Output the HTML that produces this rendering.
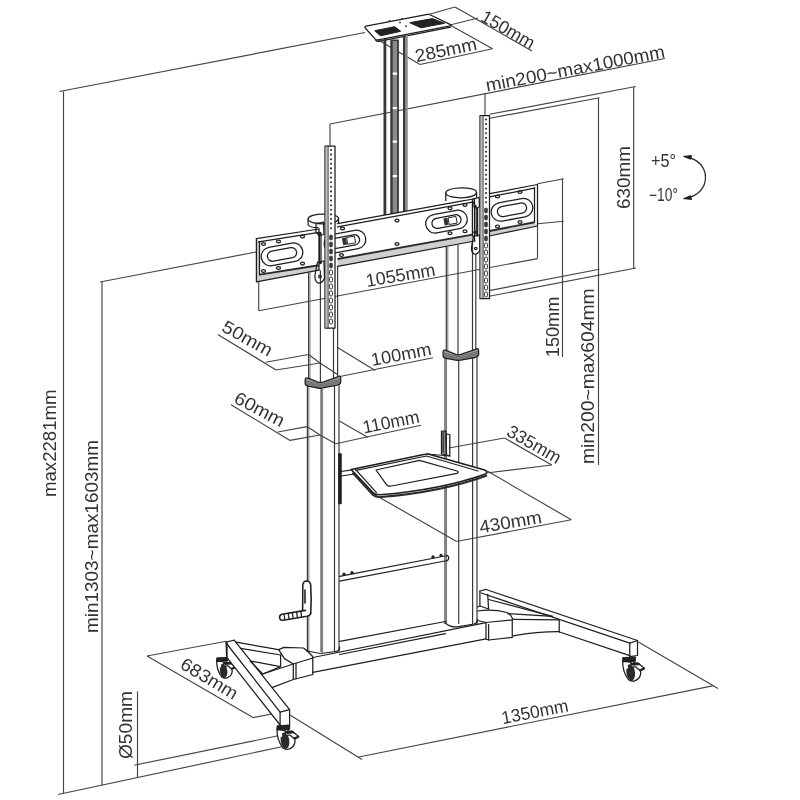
<!DOCTYPE html>
<html><head><meta charset="utf-8"><title>TV cart dimensions</title>
<style>
html,body{margin:0;padding:0;background:#fff;}
body{width:800px;height:800px;overflow:hidden;}
svg{display:block;filter:grayscale(1);}
text{font-family:"Liberation Sans",sans-serif;fill:#333;}
.d{stroke:#444;stroke-width:1.15;fill:none;}
.o{stroke:#1e1e1e;stroke-width:1.25;fill:none;stroke-linejoin:round;stroke-linecap:round;}
.oc{stroke:#1e1e1e;stroke-width:1.25;fill:#fff;stroke-linejoin:round;}
.o2{stroke:#1e1e1e;stroke-width:0.9;fill:none;}
.f{stroke:#1e1e1e;stroke-width:1;fill:#222;stroke-linejoin:round;}
.h{fill:#333;stroke:none;}
.c{stroke:#3a3a3a;stroke-width:1.2;fill:none;}
.a{stroke:#333;stroke-width:1.3;fill:none;}
.ck{stroke:#222;stroke-width:1.6;fill:#fff;stroke-linejoin:round;stroke-linecap:round;}
.ot{stroke:#2a2a2a;stroke-width:1.9;fill:none;}
.sd{fill:#3a3a3a;stroke:#3a3a3a;stroke-width:0.6;}
.sh{stroke:#1e1e1e;stroke-width:1.6;fill:#fff;stroke-linejoin:round;}
.c2{stroke:#555;stroke-width:0.8;fill:none;}
.bd{fill:#383838;stroke:none;}
.bg{fill:#8a8a8a;stroke:none;}
.col{fill:#9a9a9a;stroke:#222;stroke-width:1.3;stroke-linejoin:round;}
.cl{fill:none;stroke:#444;stroke-width:0.6;}
</style></head><body>
<svg width="800" height="800" viewBox="0 0 800 800">
<rect x="0" y="0" width="800" height="800" fill="#fff"/>
<line class="d" x1="59.5" y1="91.5" x2="365" y2="32.5"/>
<line class="d" x1="63.5" y1="91.5" x2="63.5" y2="793.3"/>
<line class="d" x1="58" y1="794.5" x2="283" y2="746.5"/>
<line class="d" x1="100" y1="282" x2="256" y2="252"/>
<line class="d" x1="102" y1="282" x2="102" y2="785"/>
<line class="d" x1="137.5" y1="691.4" x2="137.5" y2="777.5"/>
<line class="d" x1="134.2" y1="765.2" x2="280.5" y2="735.3"/>
<line class="d" x1="147" y1="656" x2="253" y2="717.6"/>
<line class="d" x1="147" y1="656" x2="226.25" y2="641.25"/>
<line class="d" x1="253" y1="717.6" x2="280" y2="712.5"/>
<line class="d" x1="358.75" y1="757" x2="712.6" y2="685.9"/>
<line class="d" x1="290" y1="715" x2="362" y2="759.5"/>
<line class="d" x1="638.4" y1="641.9" x2="718" y2="688.6"/>
<line class="d" x1="370" y1="492" x2="456.25" y2="541.25"/>
<line class="d" x1="456.25" y1="541.5" x2="571.25" y2="519.75"/>
<line class="d" x1="487.25" y1="471" x2="571.25" y2="519.75"/>
<line class="d" x1="504.5" y1="438" x2="551.75" y2="465"/>
<line class="d" x1="448.75" y1="448" x2="504.5" y2="438"/>
<line class="d" x1="486.25" y1="473" x2="551.75" y2="465"/>
<line class="d" x1="598.5" y1="98" x2="598.5" y2="465"/>
<line class="d" x1="489.7" y1="118.2" x2="599.5" y2="97.8"/>
<line class="d" x1="489.1" y1="290.6" x2="599.4" y2="269.25"/>
<line class="d" x1="633.7" y1="87" x2="633.7" y2="268.4"/>
<line class="d" x1="489.7" y1="114.3" x2="635.7" y2="86.5"/>
<line class="d" x1="489.1" y1="296.25" x2="636" y2="268"/>
<line class="d" x1="562.5" y1="178.75" x2="562.5" y2="357"/>
<line class="d" x1="537.5" y1="183.75" x2="563.75" y2="178.75"/>
<line class="d" x1="537.5" y1="223.75" x2="563.75" y2="221.25"/>
<line class="d" x1="258.7" y1="310.8" x2="537.5" y2="258.6"/>
<line class="d" x1="258.7" y1="281" x2="258.7" y2="310.8"/>
<line class="d" x1="537.5" y1="224" x2="537.5" y2="258.6"/>
<line class="d" x1="330" y1="124" x2="665" y2="58.5"/>
<line class="d" x1="330" y1="124" x2="330" y2="146"/>
<line class="d" x1="485" y1="93" x2="485" y2="115.5"/>
<line class="d" x1="455" y1="7" x2="532" y2="51"/>
<line class="d" x1="425" y1="15.5" x2="455" y2="7"/>
<line class="d" x1="450" y1="25" x2="478" y2="18"/>
<line class="d" x1="420" y1="64.5" x2="492.5" y2="48.75"/>
<line class="d" x1="377.5" y1="39.5" x2="420" y2="64.5"/>
<line class="d" x1="450" y1="25" x2="492.5" y2="48.75"/>
<line class="d" x1="217.8" y1="334.4" x2="276" y2="370"/>
<line class="d" x1="265.7" y1="362.2" x2="308.6" y2="354.5"/>
<line class="d" x1="276" y1="370" x2="320" y2="363"/>
<polyline class="d" points="308.6,354.5 320,363 337.5,374.6"/>
<line class="d" x1="337.5" y1="347.5" x2="375.2" y2="370.5"/>
<line class="d" x1="337.5" y1="377" x2="433" y2="357.75"/>
<line class="d" x1="231" y1="404.7" x2="290" y2="440.4"/>
<line class="d" x1="277.9" y1="432" x2="307" y2="426.6"/>
<line class="d" x1="290" y1="440.4" x2="320" y2="435"/>
<polyline class="d" points="307,426.6 320,435 335.75,443.75"/>
<line class="d" x1="339.25" y1="421" x2="367.75" y2="437.25"/>
<line class="d" x1="335.75" y1="443.75" x2="421" y2="425.25"/>
<text transform="translate(56.2,497) rotate(-90)" font-size="18" text-anchor="start" textLength="107.5" lengthAdjust="spacingAndGlyphs">max2281mm</text>
<text transform="translate(98.1,633) rotate(-90)" font-size="18" text-anchor="start" textLength="193" lengthAdjust="spacingAndGlyphs">min1303~max1603mm</text>
<text transform="translate(131.6,759) rotate(-90)" font-size="18" text-anchor="start" textLength="68" lengthAdjust="spacingAndGlyphs">Ø50mm</text>
<text transform="translate(629.5,209) rotate(-90)" font-size="18" text-anchor="start" textLength="63" lengthAdjust="spacingAndGlyphs">630mm</text>
<text transform="translate(558.5,357.2) rotate(-90)" font-size="18" text-anchor="start" textLength="60.6" lengthAdjust="spacingAndGlyphs">150mm</text>
<text transform="translate(594.2,464) rotate(-90)" font-size="18" text-anchor="start" textLength="175.7" lengthAdjust="spacingAndGlyphs">min200~max604mm</text>
<text transform="translate(479.4,20.2) rotate(29.7)" font-size="18" text-anchor="start" textLength="59" lengthAdjust="spacingAndGlyphs">150mm</text>
<text transform="translate(416.5,62.3) rotate(-11.8)" font-size="18" text-anchor="start" textLength="62.5" lengthAdjust="spacingAndGlyphs">285mm</text>
<text transform="translate(487,91.6) rotate(-10.85)" font-size="18" text-anchor="start" textLength="182" lengthAdjust="spacingAndGlyphs">min200~max1000mm</text>
<text transform="translate(651,167) rotate(0)" font-size="17.5" text-anchor="start" textLength="25" lengthAdjust="spacingAndGlyphs">+5°</text>
<text transform="translate(649,201) rotate(0)" font-size="17.5" text-anchor="start" textLength="29" lengthAdjust="spacingAndGlyphs">−10°</text>
<text transform="translate(367,287) rotate(-9.5)" font-size="18" text-anchor="start" textLength="70" lengthAdjust="spacingAndGlyphs">1055mm</text>
<text transform="translate(220.6,330.6) rotate(28.8)" font-size="18" text-anchor="start" textLength="54.6" lengthAdjust="spacingAndGlyphs">50mm</text>
<text transform="translate(372.2,366) rotate(-10.6)" font-size="18" text-anchor="start" textLength="61" lengthAdjust="spacingAndGlyphs">100mm</text>
<text transform="translate(232.8,402) rotate(27.8)" font-size="18" text-anchor="start" textLength="54.2" lengthAdjust="spacingAndGlyphs">60mm</text>
<text transform="translate(364,433.5) rotate(-11.3)" font-size="18" text-anchor="start" textLength="57.4" lengthAdjust="spacingAndGlyphs">110mm</text>
<text transform="translate(505.5,435) rotate(29.7)" font-size="18" text-anchor="start" textLength="59" lengthAdjust="spacingAndGlyphs">335mm</text>
<text transform="translate(480.5,533.2) rotate(-9.5)" font-size="18" text-anchor="start" textLength="63" lengthAdjust="spacingAndGlyphs">430mm</text>
<text transform="translate(179,667.5) rotate(31)" font-size="18" text-anchor="start" textLength="63.5" lengthAdjust="spacingAndGlyphs">683mm</text>
<text transform="translate(502.7,724.2) rotate(-11)" font-size="18" text-anchor="start" textLength="67.8" lengthAdjust="spacingAndGlyphs">1350mm</text>
<path class="a" d="M686,157 C712,161 712,194 686,198"/>
<polygon class="f" points="683.6,156.4 691.5,155.6 690.6,159.2"/>
<polygon class="f" points="683.6,198.6 691.5,199.4 690.6,195.8"/>
<path class="oc" d="M366,26.2 L427.5,14.4 Q428.8,14.2 430,14.8 L450.5,24.6 Q451.6,25.4 450.2,25.8 L378.5,39.8 Q376.2,40.2 375,38.8 L365.2,28 Q364.4,26.6 366,26.2 Z"/>
<path class="o" d="M375.6,40 Q377,41.8 379,41.4 L450.6,27.2"/>
<polygon class="f" points="374.8,30.7 394.7,26.7 400.7,31.3 380.5,35.8"/>
<polygon class="f" points="409.7,22.7 432.2,18.6 444.6,23.3 421,27.8"/>
<circle class="h" cx="389.5" cy="21" r="0.9"/>
<circle class="h" cx="400" cy="22.5" r="0.9"/>
<circle class="h" cx="406" cy="26.2" r="0.9"/>
<circle class="h" cx="402.2" cy="18.8" r="0.9"/>
<polygon class="bd" points="383.5,39 386.3,39 386.3,214.8 383.5,215.3"/>
<polygon class="bd" points="390.3,39.5 398.90000000000003,39.5 398.90000000000003,212.5 390.3,214.1"/>
<polygon class="bg" points="392.7,41 397.09999999999997,41 397.09999999999997,212.9 392.7,213.7"/>
<polygon class="bd" points="403,35 405.6,35 405.6,211.3 403,211.8"/>
<polygon class="bg" points="405.6,35 407.70000000000005,35 407.70000000000005,210.9 405.6,211.3"/>
<rect x="392.7" y="72.5" width="4.4" height="2.2" fill="#fff"/>
<rect x="392.7" y="107" width="4.4" height="2.2" fill="#fff"/>
<rect x="392.7" y="140.5" width="4.4" height="2.2" fill="#fff"/>
<rect x="392.7" y="175" width="4.4" height="2.2" fill="#fff"/>
<polygon fill="#cfcfcf" points="259.5,274.6 319,265.3 319,270 256.4,281.6 256.4,276"/>
<polygon fill="#ccc" points="256.4,239 259.5,241.4 259.5,276 256.4,281"/>
<polyline class="o" points="256.4,238.6 319,229"/>
<polyline class="o" points="256.4,238.6 256.4,281.8 319,270.2"/>
<polyline class="o" points="258.5,241.8 319,232.4"/>
<polyline class="o" points="259.5,241.6 259.5,275"/>
<polyline class="ot" points="259.5,274.6 319,265.3"/>
<line class="o" x1="319" y1="229" x2="319" y2="270.2"/>
<polygon fill="#cfcfcf" points="337.5,259 472.4,234.6 475,241 337.5,266.4"/>
<polyline class="o" points="337.5,223.7 475,198.7"/>
<polyline class="o" points="337.5,226.8 472.4,202.2"/>
<polyline class="o" points="337.5,266.4 475,241"/>
<polyline class="ot" points="337.5,259 472.4,234.6"/>
<polygon fill="#cfcfcf" points="489.5,231 533,222.3 537.5,225.8 489.5,236"/>
<polyline class="o" points="489.5,193.7 537.5,184.5 537.5,226 489.5,236"/>
<polyline class="o" points="489.5,196.8 534.5,188.2"/>
<polyline class="ot" points="489.5,231 534.5,222.2"/>
<polyline class="o" points="534.5,222.3 534.5,187.5"/>
<line class="c" x1="308.6" y1="272.392" x2="308.6" y2="384"/>
<line class="c" x1="320.4" y1="270.26800000000003" x2="320.4" y2="384"/>
<line class="c2" x1="310" y1="272" x2="310" y2="380"/>
<line class="c" x1="337.6" y1="267" x2="337.6" y2="380"/>
<line class="c" x1="333.5" y1="328" x2="333.5" y2="381"/>
<line class="c" x1="307.4" y1="384" x2="307.4" y2="652"/>
<line class="c" x1="321.1" y1="384" x2="321.1" y2="652"/>
<line class="c" x1="334.5" y1="384" x2="334.5" y2="652"/>
<line class="c" x1="339" y1="384" x2="339" y2="652"/>
<line class="c2" x1="308.8" y1="386" x2="308.8" y2="651"/>
<line class="c2" x1="322.6" y1="389" x2="322.6" y2="653"/>
<line class="c" x1="446.3" y1="246.646" x2="446.3" y2="355"/>
<line class="c" x1="458" y1="244.54" x2="458" y2="355"/>
<line class="c" x1="472.5" y1="241.92999999999998" x2="472.5" y2="355"/>
<line class="c2" x1="447.8" y1="246.5" x2="447.8" y2="352"/>
<line class="c" x1="475.8" y1="254" x2="475.8" y2="352"/>
<line class="c" x1="445" y1="355" x2="445" y2="624"/>
<line class="c" x1="458.7" y1="355" x2="458.7" y2="624"/>
<line class="c" x1="472.6" y1="355" x2="472.6" y2="624"/>
<line class="c" x1="477" y1="355" x2="477" y2="624"/>
<line class="c2" x1="446.5" y1="358" x2="446.5" y2="623"/>
<path class="col" d="M305.2,380.20000000000005 Q305.2,377.0 308.0,378.20000000000005 L318.0,382.2 Q320.4,383.0 323.0,382.2 L337.0,377.2 Q340.7,374.7 340.7,378.2 L340.7,382.5 Q340.5,384.0 337.0,385.1 L323.0,387.9 Q320.4,388.5 318.0,388.0 L308.0,386.1 Q305.2,385.50000000000006 305.2,383.50000000000006 Z"/>
<path class="cl" d="M305.8,380.90000000000003 L318.0,384.0 Q320.4,384.7 323.0,384.0 L340.09999999999997,379.2"/>
<path class="cl" d="M305.8,382.40000000000003 L318.0,385.5 Q320.4,386.2 323.0,385.5 L340.09999999999997,380.7"/>
<path class="cl" d="M305.8,383.90000000000003 L318.0,387.0 Q320.4,387.7 323.0,387.0 L340.09999999999997,382.2"/>
<path class="col" d="M443.1,352.40000000000003 Q443.1,349.2 445.90000000000003,350.40000000000003 L455.8,354.40000000000003 Q458.2,355.20000000000005 460.8,354.40000000000003 L474.90000000000003,349.6 Q478.6,347.1 478.6,350.6 L478.6,354.90000000000003 Q478.40000000000003,356.40000000000003 474.90000000000003,357.50000000000006 L460.8,360.1 Q458.2,360.70000000000005 455.8,360.20000000000005 L445.90000000000003,358.3 Q443.1,357.70000000000005 443.1,355.70000000000005 Z"/>
<path class="cl" d="M443.70000000000005,353.1 L455.8,356.20000000000005 Q458.2,356.90000000000003 460.8,356.20000000000005 L478.0,351.6"/>
<path class="cl" d="M443.70000000000005,354.6 L455.8,357.70000000000005 Q458.2,358.40000000000003 460.8,357.70000000000005 L478.0,353.1"/>
<path class="cl" d="M443.70000000000005,356.1 L455.8,359.20000000000005 Q458.2,359.90000000000003 460.8,359.20000000000005 L478.0,354.6"/>
<path class="oc" d="M308.1,224.6 L308.1,219 C308.1,212.6 338.5,212.4 338.5,218.6 L338.5,223"/>
<path class="o" d="M308.1,219 C309,225.6 337,225.4 338.5,218.6"/>
<path class="o" d="M308.1,224.6 C309,227 314,227.6 318,227.6"/>
<path class="oc" d="M445.8,201 L445.8,193 C445.8,186.4 476.6,186.2 476.6,192.4 L476.6,198.5"/>
<path class="o" d="M445.8,193 C447,199.6 475,199.4 476.6,192.4"/>
<polyline class="o" points="307.2,651 320.5,653.5 336,651.5"/>
<path class="o" d="M336,651.5 Q339.7,651 339.7,647"/>
<path class="o" d="M445.4,623 Q450,627.5 457,626.9 L474,624 Q477.6,623 477.6,619"/>
<path class="ck" d="M302.6,614 L302.8,585 Q303.2,581 306.6,581 Q310.4,581.4 310.7,585 Q311.6,600 310.7,613.5"/>
<path class="ck" d="M305.4,610.4 L282,614.3 Q279.3,615 279.6,617.7 Q280,620.6 283,620.2 L307,616.3 Q310.7,615.5 310.7,612.5"/>
<line class="ck" x1="305" y1="590" x2="305" y2="603"/>
<line class="o" x1="284.0" y1="614.0" x2="284.8" y2="619.9"/>
<line class="o" x1="288.2" y1="613.3" x2="289.0" y2="619.1999999999999"/>
<line class="o" x1="292.4" y1="612.6" x2="293.2" y2="618.5"/>
<line class="o" x1="296.6" y1="611.9" x2="297.40000000000003" y2="617.8"/>
<line class="o" x1="300.8" y1="611.2" x2="301.6" y2="617.1"/>
<polyline class="o" points="339.7,576.3 447.5,555.5"/>
<polyline class="o" points="339.7,581.2 447.5,560.5"/>
<path class="o" d="M447.5,555.5 Q450,558 447.5,560.5"/>
<circle class="f" cx="344" cy="574.2" r="1.2"/>
<circle class="f" cx="352" cy="572.7" r="1.2"/>
<circle class="f" cx="433" cy="557" r="1.2"/>
<circle class="f" cx="441" cy="555.4" r="1.2"/>
<line class="o" x1="339.7" y1="641.3" x2="445.4" y2="621.5"/>
<path class="sh" d="M351.2,469.5 L425,454.2 Q427.5,453.6 430,454.4 L484.5,470 Q488.5,471.5 485.5,474 Q440,490 380,494.8 Q375.5,495 373,492.5 Z"/>
<path class="ot" d="M352.5,472.5 L373,495 Q376,497.5 381,497 Q441,492.2 487,475.5"/>
<path class="o" d="M376,470 L419.5,460.3 L457,471 Q459.5,472 457,473.4 L391.5,486 Q388,486.5 386.5,484.5 Z"/>
<polyline class="o" points="356,470.3 426.5,456 478,471"/>
<polyline class="o" points="355.5,469.3 376.5,492.6"/>
<polygon class="f" points="338.7,453.7 341.2,453.7 341.2,503.7 338.7,503.7"/>
<polyline class="o" points="341.2,471.5 352,469.8"/>
<polyline class="o" points="341.2,476 354.5,474"/>
<polygon class="o" points="441.5,431 446,431 446.5,455 441.5,454"/>
<rect x="442.2" y="432" width="1.8" height="21.5" fill="#444"/>
<polygon class="o" points="446,434 449.8,434.5 449.8,456 446.5,455"/>
<line class="o" x1="427" y1="454" x2="449.8" y2="456"/>
<path class="oc" d="M226.0,662.0 L227.7,663.0 Q232.5,666.7 232.2,671.5 Q231.7,676.9 225.7,678.3 L223.4,677.5 Z"/>
<path class="oc" d="M216.7,660.7 Q216.3,669.7 221.9,677.1 L223.9,677.8 L223.9,662.0 Z"/>
<ellipse cx="223.6" cy="670.6" rx="3.7" ry="7.1" fill="#2a2a2a" transform="rotate(-8 224.1 670.6)"/>
<rect x="219.4" y="665.1" width="1.7" height="2.2" fill="#fff"/>
<path class="f" d="M216.7,657.9 L227.6,657.4 L227.6,661.1 L216.7,661.5 Z"/>
<path class="oc" d="M223.9,663.0 L229.8,662.5 L235.4,667.0 L231.1,668.5 L227.7,665.8 L223.9,666.0 Z"/>
<path class="f" d="M223.9,663.0 L229.8,662.5 L231.6,663.9 L225.1,664.4 Z"/>
<path class="f" d="M231.1,668.5 L235.4,667.0 L235.4,667.9 L231.3,669.5 Z"/>
<polygon fill="#fff" points="226.1,642 234.6,640.2 289.6,709.7 289.6,725.1 280.1,726 226.6,657.2"/>
<polyline class="o" points="226.1,643 280.1,712.1"/>
<polyline class="o" points="234.6,640.6 289.6,709.7"/>
<polyline class="o" points="226.6,657.2 280.1,725"/>
<polyline class="o" points="226.6,657.2 226.1,642 234.6,640.2"/>
<line class="o" x1="227" y1="642" x2="227" y2="657"/>
<polygon class="o" points="280.1,712.1 289.6,709.7 289.6,725.1 280.1,726"/>
<polyline class="o" points="236,642.2 278.5,649.6"/>
<polyline class="o" points="240.5,648.4 280.6,655"/>
<polygon class="o" points="250.2,661 280.6,666.6 262.7,674"/>
<line class="o" x1="280.6" y1="655" x2="280.6" y2="666.6"/>
<polyline class="o" points="262.7,674 293.3,664"/>
<polyline class="o" points="272.5,687.3 293.3,679.5"/>
<polygon class="o" points="278.7,649.6 284,647.4 303.5,648 307.2,651 312.3,656 312.8,658 293.3,664 284.4,658.6"/>
<polyline class="o" points="293.3,664 293.3,679.5 312.8,674.5 312.8,658"/>
<line class="o" x1="296" y1="663.5" x2="296" y2="678.8"/>
<polyline class="o" points="312.8,657.5 486,622.6"/>
<polyline class="o" points="339.7,654.5 445.4,633.6"/>
<polyline class="o" points="312.8,672.4 486,638.8"/>
<polygon class="o" points="486,622.5 512.25,619.9 512.25,637.4 488.6,640 486,639"/>
<line class="o" x1="488.6" y1="624.6" x2="488.6" y2="640"/>
<path class="o" d="M477.6,611 Q492,608.5 507,612.5 Q511.5,615 513.1,619.5"/>
<path class="o" d="M477.6,620.5 L486,622.5"/>
<polyline class="o" points="513.1,619.3 559.5,619.9"/>
<polyline class="o" points="508,613.6 552.5,616.4"/>
<path class="o" d="M513.1,635.8 Q538,631.5 559.2,631.6"/>
<line class="o" x1="559.2" y1="619.9" x2="559.2" y2="632"/>
<polyline class="o" points="486,589.5 637.5,640.5"/>
<polyline class="o" points="481.2,593 629.75,643.2"/>
<polyline class="o" points="488.6,599.5 552.5,616.4"/>
<polyline class="o" points="559.5,632 629.75,655.6"/>
<polyline class="o" points="479.9,591 479.9,606 488.6,609"/>
<polyline class="o" points="479.9,591 486,589.3"/>
<line class="o" x1="487.7" y1="594.5" x2="488.6" y2="609"/>
<line class="o" x1="479.9" y1="606" x2="477.6" y2="607"/>
<polygon class="o" points="629.75,643.2 637.5,640.5 637.5,655.5 629.75,656.6"/>
<path class="oc" d="M287.8,730.6 L289.8,731.8 Q295.4,736.1 295.0,741.6 Q294.4,747.9 287.5,749.5 L284.8,748.6 Z"/>
<path class="oc" d="M277.0,729.1 Q276.6,739.6 283.0,748.2 L285.4,749.0 L285.4,730.6 Z"/>
<ellipse cx="285.0" cy="740.6" rx="4.3" ry="8.2" fill="#2a2a2a" transform="rotate(-8 285.6 740.6)"/>
<rect x="280.2" y="734.2" width="2.0" height="2.6" fill="#fff"/>
<path class="f" d="M277.0,725.8 L289.7,725.2 L289.7,729.5 L277.0,730.0 Z"/>
<path class="oc" d="M285.4,731.8 L292.3,731.2 L298.7,736.4 L293.8,738.2 L289.8,735.0 L285.4,735.2 Z"/>
<path class="f" d="M285.4,731.8 L292.3,731.2 L294.3,732.8 L286.8,733.4 Z"/>
<path class="f" d="M293.8,738.2 L298.7,736.4 L298.7,737.5 L294.0,739.3 Z"/>
<path class="oc" d="M633.5,662.4 L635.5,663.6 Q641.1,667.9 640.7,673.4 Q640.1,679.7 633.2,681.3 L630.5,680.4 Z"/>
<path class="oc" d="M622.7,660.9 Q622.3,671.4 628.7,680.0 L631.1,680.8 L631.1,662.4 Z"/>
<ellipse cx="630.7" cy="672.4" rx="4.3" ry="8.2" fill="#2a2a2a" transform="rotate(-8 631.3 672.4)"/>
<rect x="625.9" y="666.0" width="2.0" height="2.6" fill="#fff"/>
<path class="f" d="M622.7,657.6 L635.4,657.0 L635.4,661.3 L622.7,661.8 Z"/>
<path class="oc" d="M631.1,663.6 L638.0,663.0 L644.4,668.2 L639.5,670.0 L635.5,666.8 L631.1,667.0 Z"/>
<path class="f" d="M631.1,663.6 L638.0,663.0 L640.0,664.6 L632.5,665.2 Z"/>
<path class="f" d="M639.5,670.0 L644.4,668.2 L644.4,669.3 L639.7,671.1 Z"/>
<rect class="o" x="261.0" y="245.1" width="42" height="18.6" rx="9.3" ry="9.3" transform="rotate(-10.5 282 254.4)"/>
<rect class="o" x="267.25" y="249.3" width="29.5" height="10.2" rx="5.1" ry="5.1" transform="rotate(-10.5 282 254.4)"/>
<rect class="o" x="324.0" y="232.29999999999998" width="42" height="18.6" rx="9.3" ry="9.3" transform="rotate(-10.5 345 241.6)"/>
<rect class="o" x="330.25" y="236.5" width="29.5" height="10.2" rx="5.1" ry="5.1" transform="rotate(-10.5 345 241.6)"/>
<rect class="o" x="425.5" y="212.29999999999998" width="42" height="18.6" rx="9.3" ry="9.3" transform="rotate(-10.5 446.5 221.6)"/>
<rect class="o" x="431.75" y="216.5" width="29.5" height="10.2" rx="5.1" ry="5.1" transform="rotate(-10.5 446.5 221.6)"/>
<rect class="o" x="491.0" y="200.5" width="42" height="18.6" rx="9.3" ry="9.3" transform="rotate(-10.5 512 209.8)"/>
<rect class="o" x="497.25" y="204.70000000000002" width="29.5" height="10.2" rx="5.1" ry="5.1" transform="rotate(-10.5 512 209.8)"/>
<rect x="342.5" y="237.70000000000002" width="4" height="7.2" fill="#333" transform="rotate(-10.5 345 241.3)"/>
<rect class="o2" x="347.2" y="237.9" width="8" height="6.8" fill="#fff" transform="rotate(-10.5 345 241.3)"/>
<rect x="444.0" y="218.0" width="4" height="7.2" fill="#333" transform="rotate(-10.5 446.5 221.6)"/>
<rect class="o2" x="448.7" y="218.2" width="8" height="6.8" fill="#fff" transform="rotate(-10.5 446.5 221.6)"/>
<line class="o" x1="474.5" y1="198.7" x2="474.5" y2="240.5"/>
<line class="o" x1="472.4" y1="201" x2="472.4" y2="236"/>
<ellipse class="o" cx="263.5" cy="244" rx="2" ry="1.4"/>
<ellipse class="o" cx="278.5" cy="241.5" rx="2" ry="1.4"/>
<ellipse class="o" cx="302.5" cy="236.6" rx="2" ry="1.4"/>
<ellipse class="o" cx="263.5" cy="271" rx="2" ry="1.4"/>
<ellipse class="o" cx="278.5" cy="268" rx="2" ry="1.4"/>
<ellipse class="o" cx="302.5" cy="263.6" rx="2" ry="1.4"/>
<ellipse class="o" cx="342.5" cy="228.5" rx="2" ry="1.4"/>
<ellipse class="o" cx="341.5" cy="255" rx="2" ry="1.4"/>
<ellipse class="o" cx="397" cy="220.6" rx="2" ry="1.4"/>
<ellipse class="o" cx="397" cy="244" rx="2" ry="1.4"/>
<ellipse class="o" cx="450" cy="208.2" rx="2" ry="1.4"/>
<ellipse class="o" cx="465" cy="205" rx="2" ry="1.4"/>
<ellipse class="o" cx="450" cy="233.3" rx="2" ry="1.4"/>
<ellipse class="o" cx="465" cy="231.2" rx="2" ry="1.4"/>
<ellipse class="o" cx="497.5" cy="196.5" rx="2" ry="1.4"/>
<ellipse class="o" cx="520" cy="192" rx="2" ry="1.4"/>
<ellipse class="o" cx="497.5" cy="226.5" rx="2" ry="1.4"/>
<ellipse class="o" cx="520" cy="222" rx="2" ry="1.4"/>
<path class="o" d="M316,223.5 L323.5,222 L324,234.5 L319,235.5 L316,232 Z"/>
<path class="o" d="M319.5,235.5 L319.5,262"/>
<path class="o" d="M321,235 L321,262"/>
<path class="o" d="M317.5,262 L324,261 L324.5,278 Q322,284 318,283 Q314.5,281 315,275 Z"/>
<circle class="o" cx="320" cy="276.5" r="1.3"/>
<path class="o" d="M472,199 L479,197.5 L479.5,207 L475.5,208 Z"/>
<path class="o" d="M476.2,208 L476.2,236"/>
<path class="o" d="M477.6,208 L477.6,236"/>
<path class="o" d="M473.5,236 L479.5,235 L480,250 Q477.5,255 474,254 Q471,252 471.5,247 Z"/>
<circle class="o" cx="475.8" cy="248.5" r="1.2"/>
<circle cx="475" cy="206.3" r="1.7" fill="#222"/>
<circle cx="475" cy="232.3" r="1.7" fill="#222"/>
<circle cx="320" cy="233.5" r="1.7" fill="#222"/>
<circle cx="320.3" cy="262.5" r="1.7" fill="#222"/>
<polygon class="oc" points="325,146 335,146 335,328 325,328"/>
<line class="o" x1="327.9" y1="146" x2="327.9" y2="328"/>
<rect x="325.6" y="146.6" width="2" height="180.8" fill="#bbb"/>
<polygon class="oc" points="480,115.5 489.5,115.5 489.5,298.7 480,298.7"/>
<line class="o" x1="482.9" y1="115.5" x2="482.9" y2="298.7"/>
<rect x="480.6" y="116.1" width="2" height="182.0" fill="#bbb"/>
<circle class="h" cx="331" cy="150.0" r="1.05"/>
<circle class="h" cx="331" cy="154.6" r="1.05"/>
<circle class="h" cx="331" cy="159.2" r="1.05"/>
<circle class="h" cx="331" cy="163.8" r="1.05"/>
<circle class="h" cx="331" cy="168.4" r="1.05"/>
<circle class="h" cx="331" cy="173.0" r="1.05"/>
<circle class="h" cx="331" cy="177.6" r="1.05"/>
<circle class="h" cx="331" cy="182.2" r="1.05"/>
<circle class="h" cx="331" cy="186.8" r="1.05"/>
<circle class="h" cx="331" cy="191.4" r="1.05"/>
<circle class="h" cx="331" cy="196.0" r="1.05"/>
<circle class="h" cx="331" cy="200.6" r="1.05"/>
<circle class="h" cx="331" cy="205.2" r="1.05"/>
<circle class="h" cx="331" cy="209.8" r="1.05"/>
<circle class="h" cx="331" cy="214.4" r="1.05"/>
<circle class="h" cx="331" cy="219.0" r="1.05"/>
<circle class="h" cx="331" cy="223.6" r="1.05"/>
<circle class="h" cx="331" cy="228.2" r="1.05"/>
<rect class="sd" x="329.5" y="235.0" width="3" height="5" rx="1.3"/>
<rect class="sd" x="329.5" y="242.0" width="3" height="5" rx="1.3"/>
<rect class="sd" x="329.5" y="249.0" width="3" height="5" rx="1.3"/>
<rect class="sd" x="329.5" y="256.0" width="3" height="5" rx="1.3"/>
<rect class="sd" x="329.5" y="263.0" width="3" height="5" rx="1.3"/>
<rect class="o2" x="329.5" y="270.0" width="3" height="5" rx="1.3"/>
<rect class="o2" x="329.5" y="277.0" width="3" height="5" rx="1.3"/>
<rect class="o2" x="329.5" y="284.0" width="3" height="5" rx="1.3"/>
<rect class="o2" x="329.5" y="291.0" width="3" height="5" rx="1.3"/>
<rect class="o2" x="329.5" y="298.0" width="3" height="5" rx="1.3"/>
<rect class="o2" x="329.5" y="305.0" width="3" height="5" rx="1.3"/>
<rect class="o2" x="329.5" y="312.0" width="3" height="5" rx="1.3"/>
<rect class="o2" x="329.5" y="319.0" width="3" height="5" rx="1.3"/>
<circle class="h" cx="486" cy="119.5" r="1.05"/>
<circle class="h" cx="486" cy="124.1" r="1.05"/>
<circle class="h" cx="486" cy="128.7" r="1.05"/>
<circle class="h" cx="486" cy="133.3" r="1.05"/>
<circle class="h" cx="486" cy="137.9" r="1.05"/>
<circle class="h" cx="486" cy="142.5" r="1.05"/>
<circle class="h" cx="486" cy="147.1" r="1.05"/>
<circle class="h" cx="486" cy="151.7" r="1.05"/>
<circle class="h" cx="486" cy="156.3" r="1.05"/>
<circle class="h" cx="486" cy="160.9" r="1.05"/>
<circle class="h" cx="486" cy="165.5" r="1.05"/>
<circle class="h" cx="486" cy="170.1" r="1.05"/>
<circle class="h" cx="486" cy="174.7" r="1.05"/>
<circle class="h" cx="486" cy="179.3" r="1.05"/>
<circle class="h" cx="486" cy="183.9" r="1.05"/>
<circle class="h" cx="486" cy="188.5" r="1.05"/>
<circle class="h" cx="486" cy="193.1" r="1.05"/>
<circle class="h" cx="486" cy="197.7" r="1.05"/>
<circle class="h" cx="486" cy="202.3" r="1.05"/>
<rect class="sd" x="484.5" y="208.0" width="3" height="5" rx="1.3"/>
<rect class="sd" x="484.5" y="215.0" width="3" height="5" rx="1.3"/>
<rect class="sd" x="484.5" y="222.0" width="3" height="5" rx="1.3"/>
<rect class="sd" x="484.5" y="229.0" width="3" height="5" rx="1.3"/>
<rect class="sd" x="484.5" y="236.0" width="3" height="5" rx="1.3"/>
<rect class="o2" x="484.5" y="243.0" width="3" height="5" rx="1.3"/>
<rect class="o2" x="484.5" y="250.0" width="3" height="5" rx="1.3"/>
<rect class="o2" x="484.5" y="257.0" width="3" height="5" rx="1.3"/>
<rect class="o2" x="484.5" y="264.0" width="3" height="5" rx="1.3"/>
<rect class="o2" x="484.5" y="271.0" width="3" height="5" rx="1.3"/>
<rect class="o2" x="484.5" y="278.0" width="3" height="5" rx="1.3"/>
<rect class="o2" x="484.5" y="285.0" width="3" height="5" rx="1.3"/>
<rect class="o2" x="484.5" y="292.0" width="3" height="5" rx="1.3"/>
</svg>
</body></html>
